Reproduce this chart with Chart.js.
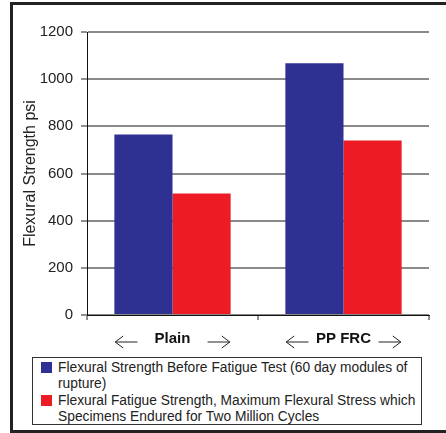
<!DOCTYPE html>
<html>
<head>
<meta charset="utf-8">
<script src="https://cdn.jsdelivr.net/npm/chart.js@4/dist/chart.umd.min.js"></script>
<style>
  body { margin: 0; background: #fff; }
  #wrap { position: relative; width: 446px; height: 433px; overflow: hidden; font-family: Arial, "Liberation Sans", sans-serif; }
  #frame { position: absolute; left: 10px; top: 2px; width: 460px; height: 425px; border: 3px solid #222; pointer-events: none; }
  #legend { position: absolute; left: 32px; top: 357px; width: 388px; height: 66px; border: 1px solid #333; background: #fff; overflow: visible; }
  .item { position: relative; width: 362px; padding-left: 25px; font-size: 13.8px; line-height: 16px; color: #222; margin-top: 2px; }
  .item + .item { margin-top: 1px; }
  .swatch { position: absolute; left: 8px; top: 2px; width: 11px; height: 11px; }
</style>
</head>
<body>
<div id="wrap">
  <canvas id="chart" width="446" height="433"></canvas>
  <div id="frame"></div>
  <div id="legend"></div>
</div>
<script>
// --- data ---
const categories = ['Plain', 'PP FRC'];
const strengthBefore = [765, 1068];
const fatigueStrength = [515, 740];
const seriesLabels = [
    'Flexural Strength Before Fatigue Test (60 day modules of rupture)',
    'Flexural Fatigue Strength, Maximum Flexural Stress which Specimens Endured for Two Million Cycles'
];
const seriesColors = ['#2e3192', '#ed1c24'];
const yAxisTitle = 'Flexural Strength psi';
const yMin = 0, yMax = 1200, yStep = 200;

// arrows either side of the category labels
const arrowPlugin = {
    id: 'categoryArrows',
    afterDraw(chart) {
        const { ctx, scales: { x } } = chart;
        const w = x.getPixelForValue(1) - x.getPixelForValue(0);
        const y = x.top + 27;
        ctx.save();
        ctx.strokeStyle = '#222';
        ctx.lineWidth = 1;
        categories.forEach((c, i) => {
            const cx = x.getPixelForValue(i);
            [-1, 1].forEach(dir => {
                const inner = cx + dir * w * 0.205;
                const outer = cx + dir * w * 0.335;
                ctx.beginPath();
                ctx.moveTo(inner, y);
                ctx.lineTo(outer, y);
                ctx.moveTo(outer - dir * 8, y - 6);
                ctx.lineTo(outer, y);
                ctx.lineTo(outer - dir * 8, y + 6);
                ctx.stroke();
            });
        });
        ctx.restore();
    }
};

const chart = new Chart(document.getElementById('chart'), {
    type: 'bar',
    data: {
        labels: categories,
        datasets: [
            { label: seriesLabels[0], data: strengthBefore, backgroundColor: seriesColors[0] },
            { label: seriesLabels[1], data: fatigueStrength, backgroundColor: seriesColors[1] }
        ]
    },
    options: {
        responsive: false,
        animation: false,
        events: [],
        datasets: { bar: { barPercentage: 1, categoryPercentage: 0.68 } },
        layout: { padding: { left: 0, top: 32, right: 17, bottom: 78 } },
        plugins: { legend: { display: false }, tooltip: { enabled: false } },
        scales: {
            x: {
                afterFit: s => { s.height = 40; },
                grid: {
                    offset: true,
                    color: c => c.index === categories.length ? '#8a8a8a' : 'rgba(255,255,255,0)',
                    lineWidth: 2,
                    tickColor: '#222',
                    tickWidth: 1,
                    tickLength: 5
                },
                border: { color: '#111', width: 1 },
                ticks: { color: '#111', padding: 10, font: { family: 'Arial', size: 15, weight: 'bold' } }
            },
            y: {
                min: yMin,
                max: yMax,
                afterFit: s => { s.width = 87; },
                ticks: {
                    stepSize: yStep,
                    color: '#222',
                    padding: 8,
                    font: { family: 'Arial', size: 15 },
                    callback: v => String(v)
                },
                grid: { color: '#8a8a8a', lineWidth: 2, tickColor: '#222', tickWidth: 1, tickLength: 6 },
                border: { color: '#111', width: 1 },
                title: {
                    display: true,
                    text: yAxisTitle,
                    color: '#222',
                    padding: { top: 21, bottom: 0 },
                    font: { family: 'Arial', size: 16 }
                }
            }
        }
    },
    plugins: [arrowPlugin]
});

// legend box below the chart
document.getElementById('legend').innerHTML = chart.data.datasets.map(ds =>
    `<div class="item"><span class="swatch" style="background:${ds.backgroundColor}"></span>${ds.label}</div>`
).join('');
</script>
</body>
</html>
